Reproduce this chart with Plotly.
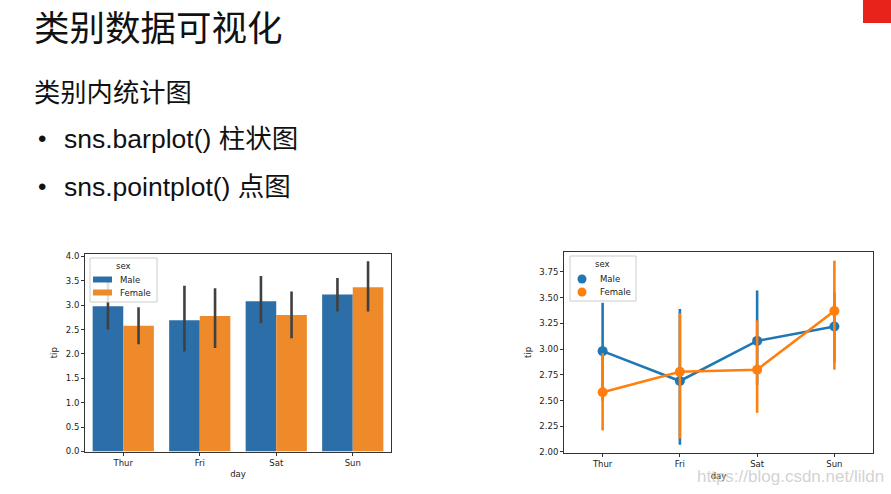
import plotly.graph_objects as go

days = ["Thur", "Fri", "Sat", "Sun"]
male_tip = [2.98, 2.69, 3.08, 3.22]
female_tip = [2.58, 2.78, 2.80, 3.37]
# bar plot confidence intervals
bar_male_lo = [2.50, 2.05, 2.63, 2.87]
bar_male_hi = [3.50, 3.40, 3.60, 3.56]
bar_female_lo = [2.20, 2.12, 2.32, 2.87]
bar_female_hi = [2.96, 3.35, 3.28, 3.90]
# point plot confidence intervals
pt_male_lo = [2.50, 2.07, 2.65, 2.87]
pt_male_hi = [3.45, 3.39, 3.57, 3.55]
pt_female_lo = [2.21, 2.13, 2.38, 2.80]
pt_female_hi = [2.96, 3.35, 3.28, 3.86]
legend_title = "sex"
legend_labels = ["Male", "Female"]

W, H = 891, 494
BLUE = "#2c6ea8"
ORANGE = "#ee8a2a"
PBLUE = "#1f77b4"
PORANGE = "#ff7f0e"
ERR = "#404040"
FONT = "Liberation Sans, Noto Sans CJK SC, sans-serif"
SMALL = "DejaVu Sans, sans-serif"


def px(x):
    return x / W


def py(y):
    return 1 - y / H


def up(v, hi):
    return [h - x for x, h in zip(v, hi)]


def down(v, lo):
    return [x - l for x, l in zip(v, lo)]


fig = go.Figure()

fig.add_trace(go.Bar(
    x=days, y=male_tip, name="Male", marker=dict(color=BLUE, line=dict(width=0)),
    error_y=dict(type="data", symmetric=False, array=up(male_tip, bar_male_hi),
                 arrayminus=down(male_tip, bar_male_lo), color=ERR, thickness=2.6, width=0),
    xaxis="x", yaxis="y", offsetgroup="m", showlegend=False))
fig.add_trace(go.Bar(
    x=days, y=female_tip, name="Female", marker=dict(color=ORANGE, line=dict(width=0)),
    error_y=dict(type="data", symmetric=False, array=up(female_tip, bar_female_hi),
                 arrayminus=down(female_tip, bar_female_lo), color=ERR, thickness=2.6, width=0),
    xaxis="x", yaxis="y", offsetgroup="f", showlegend=False))

fig.add_trace(go.Scatter(
    x=days, y=male_tip, name="Male", mode="lines+markers",
    line=dict(color=PBLUE, width=2.6), marker=dict(color=PBLUE, size=10),
    error_y=dict(type="data", symmetric=False, array=up(male_tip, pt_male_hi),
                 arrayminus=down(male_tip, pt_male_lo), color=PBLUE, thickness=2.6, width=0),
    xaxis="x2", yaxis="y2", showlegend=False))
fig.add_trace(go.Scatter(
    x=days, y=female_tip, name="Female", mode="lines+markers",
    line=dict(color=PORANGE, width=2.6), marker=dict(color=PORANGE, size=10),
    error_y=dict(type="data", symmetric=False, array=up(female_tip, pt_female_hi),
                 arrayminus=down(female_tip, pt_female_lo), color=PORANGE, thickness=2.6, width=0),
    xaxis="x2", yaxis="y2", showlegend=False))

axcommon = dict(showline=True, linecolor="#333", linewidth=1, mirror=True, ticks="outside",
                ticklen=3, tickcolor="#333", showgrid=False, zeroline=False,
                tickfont=dict(family=SMALL, size=8.5, color="#222"),
                title_font=dict(family=SMALL, size=8.5, color="#222"))

fig.update_layout(
    width=W, height=H, margin=dict(l=0, r=0, t=0, b=0, autoexpand=False),
    paper_bgcolor="white", plot_bgcolor="white",
    barmode="group", bargap=0.2, bargroupgap=0,
    font=dict(family=FONT), showlegend=False,
    xaxis=dict(domain=[px(85), px(391)], anchor="y", range=[-0.5, 3.5],
               title=dict(text="day", standoff=4), **axcommon),
    yaxis=dict(domain=[py(451.5), py(254)], anchor="x", range=[0, 4.05], dtick=0.5,
               tickformat=".1f", title=dict(text="tip", standoff=6), **axcommon),
    xaxis2=dict(domain=[px(564), px(873)], anchor="y2", range=[-0.5, 3.5],
                title=dict(text="day", standoff=4), **axcommon),
    yaxis2=dict(domain=[py(453), py(252)], anchor="x2", range=[1.99, 3.944], dtick=0.25,
                tickformat=".2f", title=dict(text="tip", standoff=6), **axcommon),
)

# slide texts
texts = [
    ("类别数据可视化", 32, 29.5, 35.5),
    ("类别内统计图", 32, 93, 26.3),
    ("•", 36, 139, 24),
    ("sns.barplot() 柱状图", 62, 139, 26.5),
    ("•", 36, 187, 24),
    ("sns.pointplot() 点图", 62, 187, 26.5),
]
for t, x, y, s in texts:
    fig.add_annotation(text=t, x=px(x), y=py(y), xref="paper", yref="paper",
                       xanchor="left", yanchor="middle", showarrow=False,
                       font=dict(family=FONT, size=s, color="#111"))


def legend(box, title_pos, items, kind):
    x0, y0, x1, y1 = box
    fig.add_shape(type="rect", xref="paper", yref="paper", x0=px(x0), x1=px(x1),
                  y0=py(y1), y1=py(y0), fillcolor="rgba(255,255,255,0.85)",
                  line=dict(color="#cccccc", width=1), layer="above")
    fig.add_annotation(text=legend_title, x=px(title_pos[0]), y=py(title_pos[1]),
                       xref="paper", yref="paper", showarrow=False,
                       xanchor="center", yanchor="middle",
                       font=dict(family=SMALL, size=8.5, color="#222"))
    for label, color, (mx, my), lx in items:
        if kind == "bar":
            fig.add_shape(type="rect", xref="paper", yref="paper",
                          x0=px(mx - 9.5), x1=px(mx + 9.5), y0=py(my + 3), y1=py(my - 3),
                          fillcolor=color, line=dict(width=0), layer="above")
        else:
            fig.add_shape(type="circle", xref="paper", yref="paper",
                          x0=px(mx - 4.5), x1=px(mx + 4.5), y0=py(my + 4.5), y1=py(my - 4.5),
                          fillcolor=color, line=dict(width=0), layer="above")
        fig.add_annotation(text=label, x=px(lx), y=py(my), xref="paper", yref="paper",
                           showarrow=False, xanchor="left", yanchor="middle",
                           font=dict(family=SMALL, size=8.5, color="#222"))


legend((90, 258, 157, 302), (123, 266),
       [(legend_labels[0], BLUE, (102.5, 279.5), 118),
        (legend_labels[1], ORANGE, (102.5, 292.5), 118)], "bar")
legend((570, 256, 636, 301), (602, 264),
       [(legend_labels[0], PBLUE, (582, 279), 598),
        (legend_labels[1], PORANGE, (582, 292), 598)], "point")

fig.add_annotation(text="https://blog.csdn.net/lildn", x=px(886), y=py(476),
                   xref="paper", yref="paper", xanchor="right", yanchor="middle",
                   showarrow=False, font=dict(family="Liberation Sans", size=17,
                                              color="rgba(190,190,190,0.7)"))

fig.add_shape(type="rect", xref="paper", yref="paper", x0=px(863), x1=1.0,
              y0=py(23), y1=1.0, fillcolor="#e8231b", line=dict(width=0), layer="above")

fig.write_html(
    "out.html",
    config={"displayModeBar": False},
    post_script="document.documentElement.style.margin='0';document.body.style.margin='0';"
                "document.body.style.overflow='hidden';document.documentElement.style.overflow='hidden';",
)
